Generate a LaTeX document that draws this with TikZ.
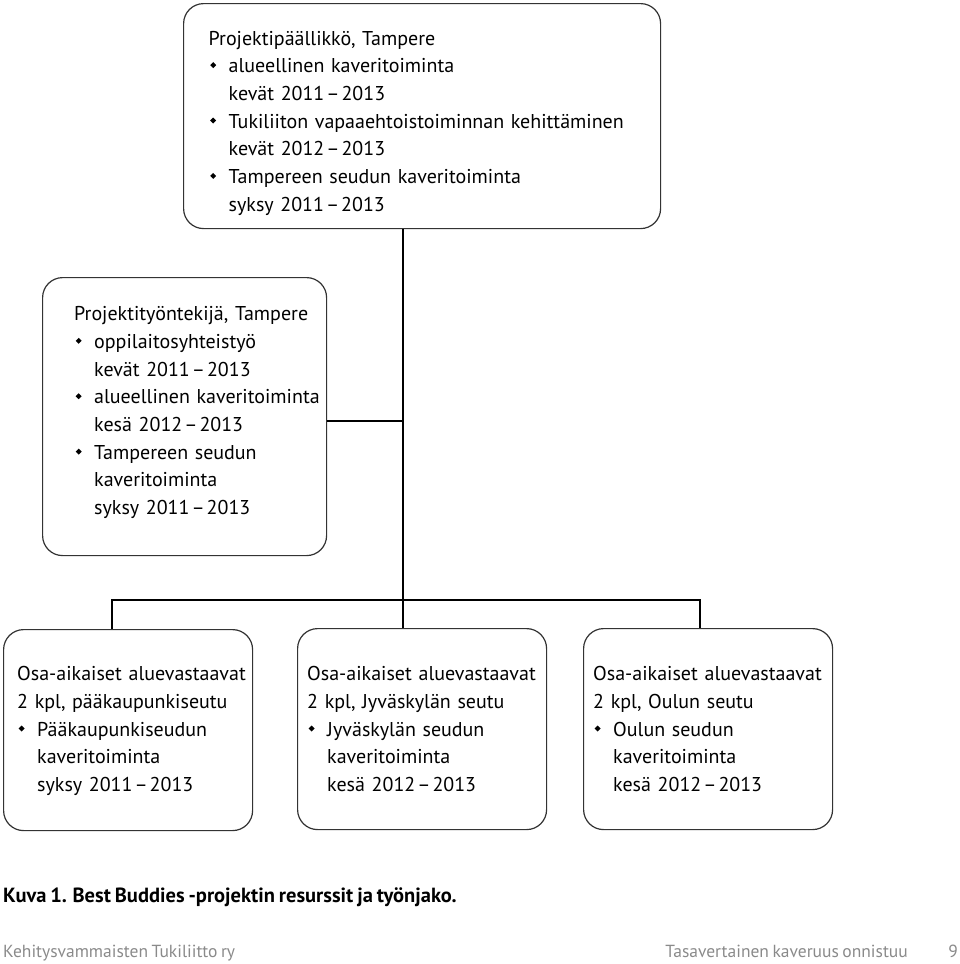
\documentclass[tikz,border=0pt]{standalone}
\usepackage{fontspec}
\setmainfont{PT Sans}[WordSpace=0.75]
\newcommand{\bul}{\makebox[20pt][l]{\hspace{1.5pt}\raisebox{4.6pt}{\rotatebox{45}{\rule{4.2pt}{4.2pt}}}}}
\newcommand{\ind}{\hspace*{20pt}}
\newcommand{\dsh}{\kern2pt–\kern2pt}
\definecolor{boxline}{HTML}{333333}
\definecolor{footgrey}{HTML}{8A8A8A}
\tikzset{
  orgbox/.style={draw=boxline, line width=1.2pt, rounded corners=20pt, inner sep=0pt, anchor=north west},
  conn/.style={line width=2pt, draw=black},
  txt/.style={anchor=base west, inner sep=0pt, align=left, text width=460pt, font=\fontsize{20}{27.7}\selectfont},
}
\begin{document}
\begin{tikzpicture}[x=1pt,y=-1pt]
\useasboundingbox (0,0) rectangle (960,964);
% boxes
\node[orgbox, minimum width=477pt, minimum height=225pt] (pm) at (183,3) {};
\node[orgbox, minimum width=284pt, minimum height=278pt] (pw) at (42,277) {};
\node[orgbox, minimum width=249pt, minimum height=201pt] (b1) at (3,629) {};
\node[orgbox, minimum width=249pt, minimum height=201pt] (b2) at (297,628) {};
\node[orgbox, minimum width=249pt, minimum height=201pt] (b3) at (583,628) {};
% texts
\node[txt] (pmt) at (208.5,45) {Projektipäällikkö, Tampere\\
\bul alueellinen kaveritoiminta\\
\ind kevät 2011\dsh2013\\
\bul Tukiliiton vapaaehtoistoiminnan kehittäminen\\
\ind kevät 2012\dsh2013\\
\bul Tampereen seudun kaveritoiminta\\
\ind syksy 2011\dsh2013};
\node[txt] (pwt) at (74,320.7) {Projektityöntekijä, Tampere\\
\bul oppilaitosyhteistyö\\
\ind kevät 2011\dsh2013\\
\bul alueellinen kaveritoiminta\\
\ind kesä 2012\dsh2013\\
\bul Tampereen seudun\\
\ind kaveritoiminta\\
\ind syksy 2011\dsh2013};
\node[txt] (b1t) at (17,680.7) {Osa-aikaiset aluevastaavat\\
2 kpl, pääkaupunkiseutu\\
\bul Pääkaupunkiseudun\\
\ind kaveritoiminta\\
\ind syksy 2011\dsh2013};
\node[txt] (b2t) at (307,680.7) {Osa-aikaiset aluevastaavat\\
2 kpl, Jyväskylän seutu\\
\bul Jyväskylän seudun\\
\ind kaveritoiminta\\
\ind kesä 2012\dsh2013};
\node[txt] (b3t) at (593,680.7) {Osa-aikaiset aluevastaavat\\
2 kpl, Oulun seutu\\
\bul Oulun seudun\\
\ind kaveritoiminta\\
\ind kesä 2012\dsh2013};
% connectors
\coordinate (j1) at (403,421);
\coordinate (d1) at (112,600);
\coordinate (d2) at (403,600);
\coordinate (d3) at (700,600);
\draw[conn] (pm.south -| d2) -- (d2);
\draw[conn] (j1 -| pw.east) -- (j1);
\draw[conn] (d1 |- b1.north) -- (d1) -- (d3) -- (d3 |- b3.north);
\draw[conn] (d2) -- (d2 |- b2.north);
% caption and footer
\node[anchor=base west, inner sep=0pt, font=\fontsize{20.5}{22}\selectfont\bfseries] (cap) at (3,902.7) {Kuva 1. Best Buddies -projektin resurssit ja työnjako.};
\node[anchor=base west, inner sep=0pt, text=footgrey, font=\fontsize{17.5}{20}\selectfont] (fl) at (3,957) {Kehitysvammaisten Tukiliitto ry};
\node[anchor=base east, inner sep=0pt, text=footgrey, font=\fontsize{17.5}{20}\selectfont] (fr) at (908,957) {Tasavertainen kaveruus onnistuu};
\node[anchor=base east, inner sep=0pt, text=footgrey, font=\fontsize{17.5}{20}\selectfont] (pg) at (958,957) {9};
\end{tikzpicture}
\end{document}
